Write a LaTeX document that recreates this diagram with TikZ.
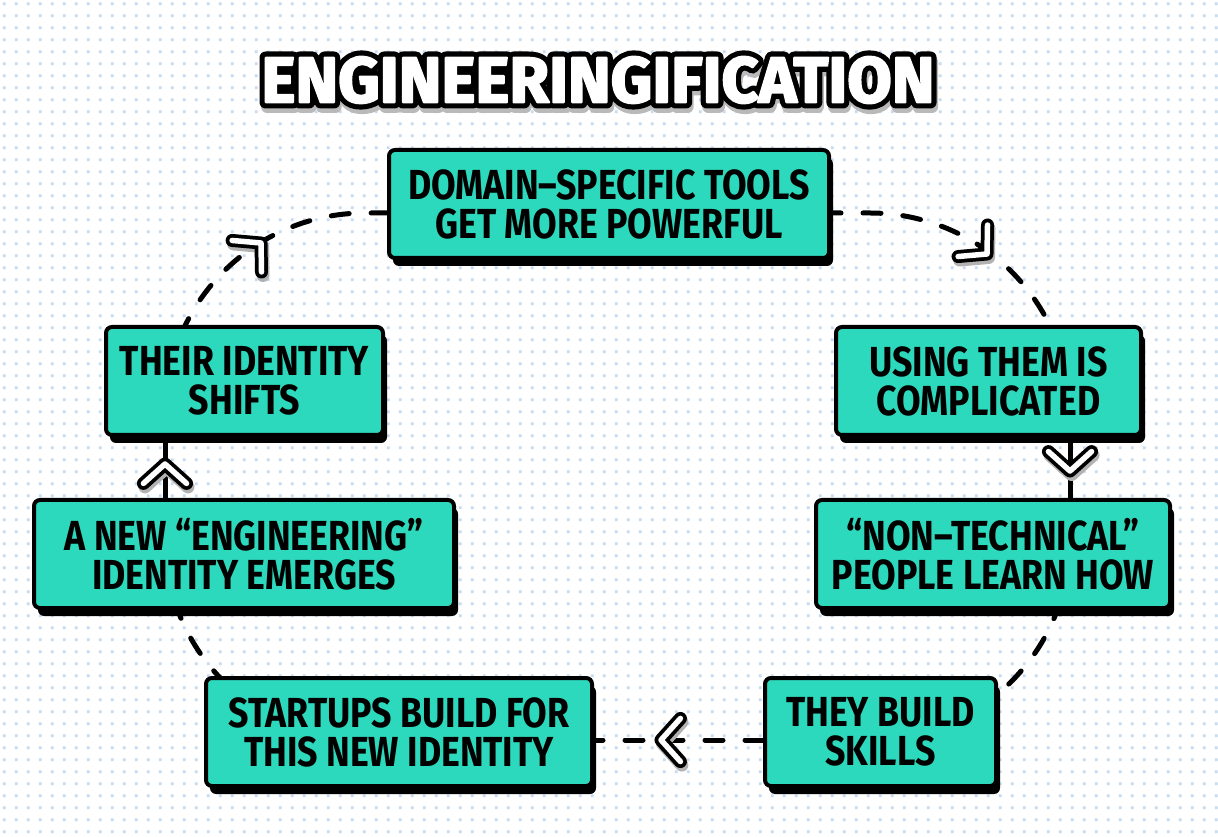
\documentclass[tikz,border=0pt]{standalone}
\usepackage{fontspec}
\newfontfamily\boxf{Fira Sans}[FakeStretch=0.85]
\newfontfamily\titblk{Fira Sans}[BoldFeatures={FakeBold=19}]
\newfontfamily\titwht{Fira Sans}[BoldFeatures={FakeBold=3}]
\usetikzlibrary{calc,shadows,patterns.meta}
\definecolor{teal1}{HTML}{2DD9BC}
\definecolor{dotc}{HTML}{C6DAF2}
\pgfdeclarelayer{dotl}
\pgfdeclarelayer{connl}
\pgfsetlayers{dotl,connl,main}
\tikzdeclarepattern{
  name=mydots, type=colored,
  bottom left={(0pt,0pt)}, top right={(11.7pt,11.7pt)},
  tile size={(11.7pt,11.7pt)},
  code={\fill[dotc] (3pt,3pt) rectangle (5.7pt,5.7pt);}
}
\newcommand\roundtxt{\special{pdf:literal direct 1 j 1 J 2 M}}
\tikzset{
  box/.style={draw=black, line width=4pt, fill=teal1, rounded corners=6pt,
    align=center, text=black, font=\boxf\bfseries\fontsize{42}{39}\selectfont,
    minimum height=108pt, inner sep=0pt,
    drop shadow={shadow xshift=4pt, shadow yshift=-8pt, fill=black, opacity=1}},
  conn/.style={line width=5pt, line cap=round, dash pattern=on 18pt off 22pt},
  chevsh/.style={line width=13pt, line cap=round, line join=round, draw=gray!60},
  chevout/.style={line width=13pt, line cap=round, line join=round, draw=black},
  chevin/.style={line width=5.5pt, line cap=round, line join=round, draw=white},
  ttl/.style={inner sep=0pt, line join=round, line cap=round, miter limit=1},
}
\newcommand\mychev[2]{%
  \draw[chevsh] ($(#1)+(1.5,-3.5)+(#2+132:29)$) -- ($(#1)+(1.5,-3.5)$) -- ($(#1)+(1.5,-3.5)+(#2-132:29)$);
  \draw[chevout] ($(#1)+(#2+132:29)$) -- (#1) -- ($(#1)+(#2-132:29)$);
  \draw[chevin] ($(#1)+(#2+132:29)$) -- (#1) -- ($(#1)+(#2-132:29)$);
}
\begin{document}
\begin{tikzpicture}[x=1pt,y=1pt]
\useasboundingbox (0,0) rectangle (1218,836);
\begin{pgfonlayer}{dotl}
  \fill[white] (0,0) rectangle (1218,836);
  \fill[pattern=mydots] (0,0) rectangle (1218,836);
\end{pgfonlayer}

% title
\coordinate (tc) at (598,756);
\node[ttl, text=gray!55, font=\titblk\bfseries\fontsize{64.5}{64.5}\selectfont] (tshadow) at ($(tc)+(1.5,-4.5)$) {\roundtxt ENGINEERINGIFICATION};
\node[ttl, text=black, font=\titblk\bfseries\fontsize{64.5}{64.5}\selectfont] (toutline) at (tc) {\roundtxt ENGINEERINGIFICATION};
\node[ttl, text=white, font=\titwht\bfseries\fontsize{64.5}{64.5}\selectfont] (title) at (tc) {\roundtxt ENGINEERINGIFICATION};

% boxes
\node[box, minimum width=440pt] (b1) at (609,632) {DOMAIN–SPECIFIC TOOLS\\GET MORE POWERFUL};
\node[box, minimum width=305pt] (b2) at (988.5,455) {USING THEM IS\\COMPLICATED};
\node[box, minimum width=354pt] (b3) at (993,282) {“NON–TECHNICAL”\\PEOPLE LEARN HOW};
\node[box, minimum width=231pt] (b4) at (880.5,104) {THEY BUILD\\SKILLS};
\node[box, minimum width=386pt] (b5) at (399,104) {STARTUPS BUILD FOR\\THIS NEW IDENTITY};
\node[box, minimum width=420pt] (b6) at (244,282) {A NEW “ENGINEERING”\\IDENTITY EMERGES};
\node[box, minimum width=277pt] (b7) at (244.5,455) {THEIR IDENTITY\\SHIFTS};

% connectors
\coordinate (ytop) at (0,623);
\coordinate (ybot) at (0,96);
\coordinate (ch1) at (987,582);
\coordinate (ch2) at (1070,365);
\coordinate (ch3) at (661,96);
\coordinate (ch4) at (165,372);
\coordinate (ch5) at (261,593);
\begin{pgfonlayer}{connl}
  \draw[conn, dash phase=8pt] (b1.east |- ytop) -- (870,623) arc[start angle=90, end angle=22, radius=200pt];
  \draw[conn, solid] (b2.south -| ch2) -- (b3.north -| ch2);
  \draw[conn] ($(870,296)+(-18:200)$) arc[start angle=-18, end angle=-53, radius=200pt];
  \draw[conn] (b4.west |- ybot) -- (b5.east |- ybot);
  \draw[conn] ($(365,296)+(226:200)$) arc[start angle=226, end angle=198, radius=200pt];
  \draw[conn, solid] (b6.north -| ch4) -- (b7.south -| ch4);
  \draw[conn] ($(365,423)+(157:200)$) arc[start angle=157, end angle=90, radius=200pt] -- (b1.west |- ytop);
  \mychev{ch1}{-43}
  \mychev{ch2}{-90}
  \mychev{ch3}{180}
  \mychev{ch4}{90}
  \mychev{ch5}{43}
\end{pgfonlayer}
\end{tikzpicture}
\end{document}
